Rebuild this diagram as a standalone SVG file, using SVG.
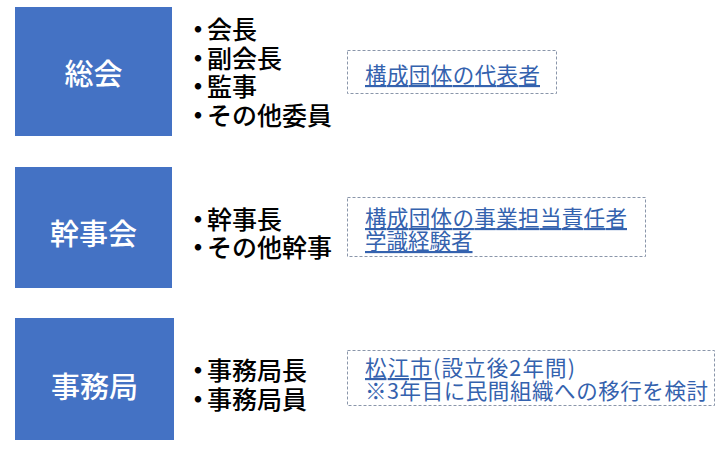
<svg xmlns="http://www.w3.org/2000/svg" width="720" height="449" viewBox="0 0 720 449">
<style>
text{font-family:"Noto Sans CJK JP","Noto Sans",sans-serif}
.box{fill:#4472C4}
.lbl{fill:#fff;font-size:29px;font-weight:500;text-anchor:middle}
.item{fill:#000;font-size:25px;font-weight:500}
.d{font-weight:700}
.note{fill:none;stroke:#8a96aa;stroke-width:1;stroke-dasharray:3 2}
.nt{fill:#3462AE;font-size:21.5px}
.u{text-decoration:underline}
</style>
<rect width="720" height="449" fill="#fff"/>
<g id="sokai">
<rect class="box" x="15" y="7" width="157" height="129"/>
<text class="lbl" x="93.5" y="85">総会</text>
<text class="item" x="185.5" y="39"><tspan class="d">・</tspan><tspan x="207">会長</tspan></text>
<text class="item" x="185.5" y="67.5"><tspan class="d">・</tspan><tspan x="207">副会長</tspan></text>
<text class="item" x="185.5" y="96"><tspan class="d">・</tspan><tspan x="207">監事</tspan></text>
<text class="item" x="185.5" y="124.5"><tspan class="d">・</tspan><tspan x="207">その他委員</tspan></text>
</g>
<g id="sokai-note">
<rect class="note" x="347.5" y="50.5" width="209" height="43"/>
<text class="nt u" x="365" y="83" textLength="175" lengthAdjust="spacing">構成団体の代表者</text>
</g>
<g id="kanjikai">
<rect class="box" x="15" y="167" width="157" height="121"/>
<text class="lbl" x="93.5" y="245">幹事会</text>
<text class="item" x="185.5" y="228.5"><tspan class="d">・</tspan><tspan x="207">幹事長</tspan></text>
<text class="item" x="185.5" y="257"><tspan class="d">・</tspan><tspan x="207">その他幹事</tspan></text>
</g>
<g id="kanjikai-note">
<rect class="note" x="347.5" y="197.5" width="298" height="59"/>
<text class="nt u" x="365" y="226" textLength="262" lengthAdjust="spacing">構成団体の事業担当責任者</text>
<text class="nt u" x="365" y="249">学識経験者</text>
</g>
<g id="jimukyoku">
<rect class="box" x="15" y="318" width="159" height="122"/>
<text class="lbl" x="94.5" y="398">事務局</text>
<text class="item" x="185.5" y="380"><tspan class="d">・</tspan><tspan x="207">事務局長</tspan></text>
<text class="item" x="185.5" y="408.5"><tspan class="d">・</tspan><tspan x="207">事務局員</tspan></text>
</g>
<g id="jimukyoku-note">
<rect class="note" x="347.5" y="350.5" width="367" height="55"/>
<text class="nt" x="365" y="376" textLength="210" lengthAdjust="spacing"><tspan class="u">松江市</tspan>(設立後2年間)</text>
<text class="nt" x="365" y="399" textLength="343" lengthAdjust="spacing">※3年目に民間組織への移行を検討</text>
</g>
</svg>
